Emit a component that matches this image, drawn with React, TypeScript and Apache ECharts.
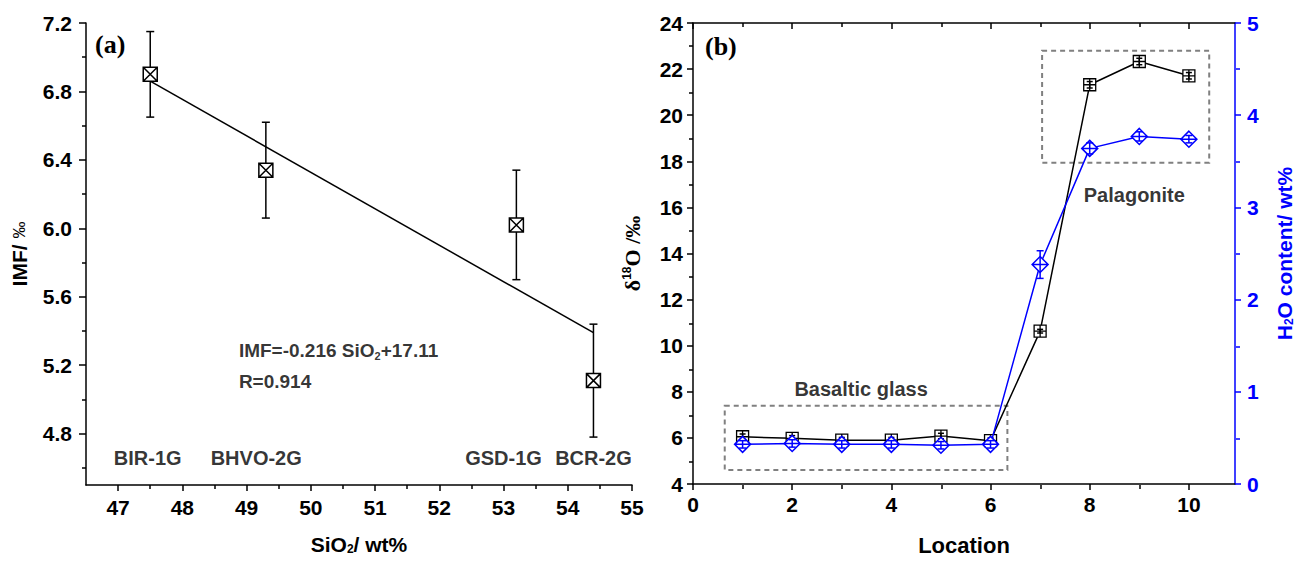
import React, { useEffect, useRef } from 'react';
import * as echarts from 'echarts';

// ---------- Panel (a) data ----------
const sampleNames = ['BIR-1G', 'BHVO-2G', 'GSD-1G', 'BCR-2G'];
const sampleSiO2 = [47.5, 49.3, 53.2, 54.4];
const sampleIMF = [6.9, 6.34, 6.02, 5.11];
const sampleErr = [0.25, 0.28, 0.32, 0.33];
const sampleLabelX = [47.46, 49.15, 53.0, 54.4];
const sampleLabelY = [4.66, 4.66, 4.66, 4.66];
const fitLineX = [47.5, 54.4];
const fitLineY = [6.86, 5.39];
const equationLines = ['{n|IMF=-0.216 SiO}{sub|2}{n|+17.11}', '{n|R=0.914}'];
const equationX = [48.88, 48.88];
const equationY = [5.284, 5.107];
const aXTicks = [47, 48, 49, 50, 51, 52, 53, 54, 55];
const aXMinor = [47.5, 48.5, 49.5, 50.5, 51.5, 52.5, 53.5, 54.5];
const aYTicks = [4.8, 5.2, 5.6, 6.0, 6.4, 6.8, 7.2];
const aYMinor = [4.6, 5.0, 5.4, 5.8, 6.2, 6.6, 7.0];

// ---------- Panel (b) data ----------
const locations = [1, 2, 3, 4, 5, 6, 7, 8, 9, 10];
const delta18O = [6.05, 5.98, 5.9, 5.9, 6.08, 5.88, 10.63, 21.32, 22.33, 21.71];
const delta18OErr = [0.12, 0.12, 0.12, 0.12, 0.12, 0.12, 0.08, 0.14, 0.14, 0.14];
const h2oContent = [0.43, 0.44, 0.43, 0.43, 0.42, 0.43, 2.38, 3.64, 3.77, 3.74];
const h2oErr = [0.04, 0.04, 0.04, 0.04, 0.04, 0.04, 0.15, 0.06, 0.05, 0.04];
const bXTicks = [0, 2, 4, 6, 8, 10];
const bXMinor = [1, 3, 5, 7, 9];
const bYTicks = [4, 6, 8, 10, 12, 14, 16, 18, 20, 22, 24];
const bYMinor = [5, 7, 9, 11, 13, 15, 17, 19, 21, 23];
const bY2Ticks = [0, 1, 2, 3, 4, 5];
const bY2Minor = [0.5, 1.5, 2.5, 3.5, 4.5];
const regionNames = ['Basaltic glass', 'Palagonite'];
const regionLabelX = [3.39, 8.9];
const regionLabelY = [8.1, 16.53];
const regionBoxX0 = [0.64, 7.04];
const regionBoxX1 = [6.34, 10.41];
const regionBoxY0 = [4.61, 17.94];
const regionBoxY1 = [7.4, 22.8];

const SANS = "'Liberation Sans', Arial, sans-serif";
const SERIF = "'Liberation Serif', 'Times New Roman', serif";
const BLUE = '#0000ff';

const boxXSymbol = 'path://M0,0H20V20H0Z M0,0L20,20 M20,0L0,20';
const squareCrossSymbol = 'path://M0,0H20V20H0Z M10,0V20 M0,10H20';
const diamondSymbol = 'path://M10,0L20,10L10,20L0,10Z M0,10H20';

const errRender = (capHalf: number, color: string) => (params: any, api: any) => {
  const x = api.value(0);
  const y = api.value(1);
  const e = api.value(2);
  const top = api.coord([x, y + e]);
  const bot = api.coord([x, y - e]);
  const style = { stroke: color, lineWidth: 1.5 };
  return {
    type: 'group',
    children: [
      { type: 'line', shape: { x1: top[0], y1: top[1], x2: bot[0], y2: bot[1] }, style },
      { type: 'line', shape: { x1: top[0] - capHalf, y1: top[1], x2: top[0] + capHalf, y2: top[1] }, style },
      { type: 'line', shape: { x1: bot[0] - capHalf, y1: bot[1], x2: bot[0] + capHalf, y2: bot[1] }, style },
    ],
  };
};

const lineStyleBlack = { color: '#000', width: 1.5 };

function majorAxisBase(extra: any) {
  return {
    type: 'value',
    splitLine: { show: false },
    axisLine: { show: true, onZero: false, lineStyle: lineStyleBlack },
    ...extra,
  };
}

function minorAxis(gridIndex: number, min: number, max: number, ticks: number[], position: string, inside: boolean, color = '#000') {
  return {
    type: 'value',
    gridIndex,
    min,
    max,
    position,
    splitLine: { show: false },
    axisLine: { show: false, onZero: false },
    axisLabel: { show: false },
    axisTick: { show: true, inside, length: 4, customValues: ticks, lineStyle: { color, width: 1.5 } },
  };
}

const noBorder = { textBorderWidth: 0, textBorderColor: 'transparent', textShadowBlur: 0 };

export default function App() {
  const ref = useRef<HTMLDivElement>(null);
  useEffect(() => {
    if (!ref.current) return;
    const chart = echarts.init(ref.current, null, { renderer: 'svg' });

    const gridA = { left: 86, top: 23, width: 546, height: 462 };
    const gridB = { left: 693, top: 23, width: 543, height: 462 };
    const xMinA = 46.5, xMaxA = 55, yMinA = 4.5, yMaxA = 7.2;
    const xMinB = 0, xMaxB = 10.93, yMinB = 4, yMaxB = 24, y2MinB = 0, y2MaxB = 5;

    const labelStyle = { fontSize: 21, fontWeight: 'bold', color: '#000', fontFamily: SANS };

    const option: any = {
      animation: false,
      backgroundColor: '#fff',
      grid: [
        { ...gridA, containLabel: false },
        { ...gridA, containLabel: false },
        { ...gridB, containLabel: false },
        { ...gridB, containLabel: false },
      ],
      xAxis: [
        majorAxisBase({
          gridIndex: 0, min: xMinA, max: xMaxA, position: 'bottom',
          axisTick: { show: true, length: 6, customValues: aXTicks, lineStyle: lineStyleBlack },
          axisLabel: { ...labelStyle, margin: 12, customValues: aXTicks, formatter: (v: number) => String(v) },
          name: '{t|SiO}{s|2}{t|/ wt%}', nameLocation: 'middle', nameGap: 48,
          nameTextStyle: {
            rich: {
              t: { fontSize: 21, fontWeight: 'bold', fontFamily: SANS, color: '#000' },
              s: { fontSize: 12, fontWeight: 'bold', fontFamily: SANS, color: '#000', verticalAlign: 'bottom', padding: [10, 0, 0, 0] },
            },
          },
        }),
        minorAxis(1, xMinA, xMaxA, aXMinor, 'bottom', false),
        majorAxisBase({
          gridIndex: 2, min: xMinB, max: xMaxB, position: 'bottom',
          axisTick: { show: true, length: 6, customValues: bXTicks, lineStyle: lineStyleBlack },
          axisLabel: { ...labelStyle, margin: 10, customValues: bXTicks, formatter: (v: number) => String(v) },
          name: 'Location', nameLocation: 'middle', nameGap: 50,
          nameTextStyle: { fontSize: 22, fontWeight: 'bold', fontFamily: SANS, color: '#000' },
        }),
        majorAxisBase({
          gridIndex: 2, min: xMinB, max: xMaxB, position: 'top',
          axisTick: { show: true, inside: true, length: 6, customValues: bXTicks, lineStyle: lineStyleBlack },
          axisLabel: { show: false },
        }),
        minorAxis(3, xMinB, xMaxB, bXMinor, 'bottom', false),
        minorAxis(3, xMinB, xMaxB, bXMinor, 'top', true),
      ],
      yAxis: [
        majorAxisBase({
          gridIndex: 0, min: yMinA, max: yMaxA, position: 'left',
          axisTick: { show: true, length: 7, customValues: aYTicks, lineStyle: lineStyleBlack },
          axisLabel: { ...labelStyle, margin: 14, customValues: aYTicks, formatter: (v: number) => v.toFixed(1) },
          name: '{t|IMF/ }{p|‰}', nameLocation: 'middle', nameGap: 56, nameRotate: 90,
          nameTextStyle: {
            rich: {
              t: { fontSize: 21, fontWeight: 'bold', fontFamily: SANS, color: '#000' },
              p: { fontSize: 17, fontWeight: 'normal', fontFamily: SANS, color: '#000' },
            },
          },
        }),
        minorAxis(1, yMinA, yMaxA, aYMinor, 'left', false),
        majorAxisBase({
          gridIndex: 2, min: yMinB, max: yMaxB, position: 'left',
          axisTick: { show: true, length: 6, customValues: bYTicks, lineStyle: lineStyleBlack },
          axisLabel: { ...labelStyle, margin: 10, customValues: bYTicks, formatter: (v: number) => String(v) },
          name: '{d|δ}{s|18}{d|O /‰}', nameLocation: 'middle', nameGap: 50, nameRotate: 90,
          nameTextStyle: {
            rich: {
              d: { fontSize: 22, fontWeight: 'bold', fontFamily: SERIF, color: '#000' },
              s: { fontSize: 12, fontWeight: 'bold', fontFamily: SANS, color: '#000', verticalAlign: 'top', padding: [0, 0, 8, 0] },
            },
          },
        }),
        {
          type: 'value', gridIndex: 2, min: y2MinB, max: y2MaxB, position: 'right',
          splitLine: { show: false },
          axisLine: { show: true, onZero: false, lineStyle: { color: BLUE, width: 1.5 } },
          axisTick: { show: true, length: 6, customValues: bY2Ticks, lineStyle: { color: BLUE, width: 1.5 } },
          axisLabel: { ...labelStyle, color: BLUE, margin: 12, customValues: bY2Ticks, formatter: (v: number) => String(v) },
          name: '{t|H}{s|2}{t|O content/ wt%}', nameLocation: 'middle', nameGap: 38, nameRotate: 90,
          nameTextStyle: {
            rich: {
              t: { fontSize: 21, fontWeight: 'bold', fontFamily: SANS, color: BLUE },
              s: { fontSize: 12, fontWeight: 'bold', fontFamily: SANS, color: BLUE, verticalAlign: 'bottom', padding: [10, 0, 0, 0] },
            },
          },
        },
        minorAxis(3, yMinB, yMaxB, bYMinor, 'left', false),
        minorAxis(3, y2MinB, y2MaxB, bY2Minor, 'right', false, BLUE),
      ],
      graphic: [
        { type: 'text', left: 95, top: 31, style: { text: '(a)', font: `bold 26px ${SERIF}`, fill: '#000' } },
        { type: 'text', left: 705, top: 33, style: { text: '(b)', font: `bold 26px ${SERIF}`, fill: '#000' } },
      ],
      series: [
        // ----- panel (a)
        {
          type: 'line', xAxisIndex: 0, yAxisIndex: 0, symbol: 'none', z: 1,
          data: fitLineX.map((x, i) => [x, fitLineY[i]]),
          lineStyle: { color: '#000', width: 1.5 },
        },
        {
          type: 'custom', xAxisIndex: 0, yAxisIndex: 0, z: 2, clip: false,
          renderItem: errRender(4, '#000'),
          encode: { x: 0, y: 1 },
          data: sampleSiO2.map((x, i) => [x, sampleIMF[i], sampleErr[i]]),
        },
        {
          type: 'scatter', xAxisIndex: 0, yAxisIndex: 0, z: 3,
          symbol: boxXSymbol, symbolSize: 14,
          itemStyle: { color: '#fff', borderColor: '#000', borderWidth: 1.5, opacity: 1 },
          data: sampleSiO2.map((x, i) => [x, sampleIMF[i]]),
        },
        {
          type: 'scatter', xAxisIndex: 0, yAxisIndex: 0, z: 4, symbolSize: 0, silent: true,
          itemStyle: { color: '#000' },
          label: { show: true, position: 'inside', formatter: '{b}', fontSize: 20, fontWeight: 'bold', fontFamily: SANS, color: '#000', ...noBorder },
          data: sampleNames.map((n, i) => ({ name: n, value: [sampleLabelX[i], sampleLabelY[i]] })),
        },
        {
          type: 'scatter', xAxisIndex: 0, yAxisIndex: 0, z: 4, symbolSize: 0, silent: true,
          itemStyle: { color: '#000' },
          label: {
            show: true, position: 'right', distance: 0, formatter: (p: any) => p.name, ...noBorder,
            rich: {
              n: { fontSize: 19, fontWeight: 'bold', fontFamily: SANS, color: '#000', ...noBorder },
              sub: { fontSize: 11, fontWeight: 'bold', fontFamily: SANS, color: '#000', verticalAlign: 'bottom', padding: [10, 0, 0, 0], ...noBorder },
            },
          },
          data: equationLines.map((t, i) => ({ name: t, value: [equationX[i], equationY[i]] })),
        },
        // ----- panel (b)
        {
          type: 'line', xAxisIndex: 2, yAxisIndex: 2, z: 3,
          symbol: squareCrossSymbol, symbolSize: 12,
          itemStyle: { color: '#fff', borderColor: '#000', borderWidth: 1.3 },
          lineStyle: { color: '#000', width: 1.5 },
          data: locations.map((x, i) => [x, delta18O[i]]),
          markArea: {
            silent: true,
            itemStyle: { color: 'rgba(0,0,0,0)', borderColor: '#808080', borderWidth: 2, borderType: [5, 4] },
            data: regionNames.map((n, i) => [
              { coord: [regionBoxX0[i], regionBoxY1[i]] },
              { coord: [regionBoxX1[i], regionBoxY0[i]] },
            ]),
          },
        },
        {
          type: 'custom', xAxisIndex: 2, yAxisIndex: 2, z: 4, clip: false,
          renderItem: errRender(3, '#000'),
          encode: { x: 0, y: 1 },
          data: locations.map((x, i) => [x, delta18O[i], delta18OErr[i]]),
        },
        {
          type: 'line', xAxisIndex: 2, yAxisIndex: 3, z: 5,
          symbol: diamondSymbol, symbolSize: 16,
          itemStyle: { color: '#fff', borderColor: BLUE, borderWidth: 1.5 },
          lineStyle: { color: BLUE, width: 1.5 },
          data: locations.map((x, i) => [x, h2oContent[i]]),
        },
        {
          type: 'custom', xAxisIndex: 2, yAxisIndex: 3, z: 6, clip: false,
          renderItem: errRender(3.5, BLUE),
          encode: { x: 0, y: 1 },
          data: locations.map((x, i) => [x, h2oContent[i], h2oErr[i]]),
        },
        {
          type: 'scatter', xAxisIndex: 2, yAxisIndex: 2, z: 7, symbolSize: 0, silent: true,
          itemStyle: { color: '#000' },
          label: { show: true, position: 'inside', formatter: '{b}', fontSize: 20, fontWeight: 'bold', fontFamily: SANS, color: '#000', ...noBorder },
          data: regionNames.map((n, i) => ({ name: n, value: [regionLabelX[i], regionLabelY[i]] })),
        },
      ],
    };

    chart.setOption(option);
    return () => chart.dispose();
  }, []);

  return (
    <div
      ref={ref}
      style={{ position: 'fixed', left: 0, top: 0, width: 1296, height: 561, background: '#fff' }}
    />
  );
}
